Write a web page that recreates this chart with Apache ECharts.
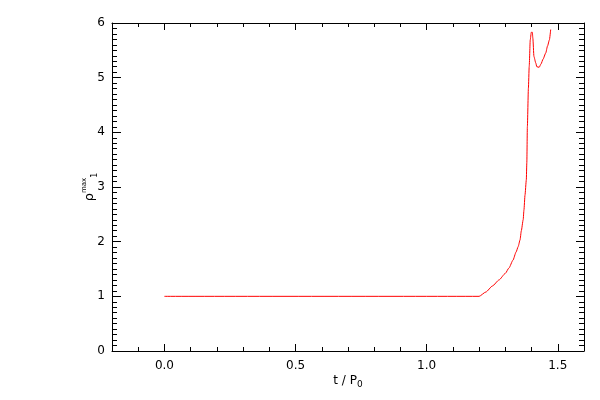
<!DOCTYPE html>
<html>
<head>
<meta charset="utf-8">
<script src="https://cdn.jsdelivr.net/npm/echarts@6/dist/echarts.min.js"></script>
<style>
html,body{margin:0;padding:0;background:#fff;}
#c{width:600px;height:400px;}
</style>
</head>
<body>
<div id="c"></div>
<script>
// Time in units of P0
var tValues = [0.0, 1.200, 1.226, 1.251, 1.276, 1.300, 1.314, 1.329, 1.341, 1.349, 1.356, 1.361, 1.368, 1.371, 1.375, 1.380, 1.382, 1.384, 1.388, 1.391, 1.395, 1.399, 1.403, 1.405, 1.409, 1.416, 1.420, 1.429, 1.436, 1.444, 1.454, 1.461, 1.468, 1.473];
// rho_1^max
var rhoValues = [1.00, 1.00, 1.08, 1.19, 1.30, 1.42, 1.52, 1.66, 1.81, 1.91, 2.03, 2.20, 2.40, 2.58, 2.85, 3.13, 3.45, 4.10, 4.81, 5.20, 5.69, 5.83, 5.83, 5.72, 5.39, 5.27, 5.20, 5.19, 5.25, 5.34, 5.45, 5.58, 5.69, 5.88];
var xTickValues = [0.0, 0.5, 1.0, 1.5];
var xTickLabels = ['0.0', '0.5', '1.0', '1.5'];
var yTickValues = [0, 1, 2, 3, 4, 5, 6];
var yTickLabels = ['0', '1', '2', '3', '4', '5', '6'];

var data = tValues.map(function (t, i) { return [t, rhoValues[i]]; });
var FONT = 'DejaVu Sans';

function lookup(vals, labels) {
  return function (v) {
    for (var i = 0; i < vals.length; i++) {
      if (Math.abs(vals[i] - v) < 1e-6) return labels[i];
    }
    return '';
  };
}

var axisLine = { show: true, onZero: false, lineStyle: { color: '#000', width: 1 } };

var chart = echarts.init(document.getElementById('c'), null, { renderer: 'canvas' });
chart.setOption({
  animation: false,
  backgroundColor: '#fff',
  grid: { left: 112, right: 16, top: 23, bottom: 49, containLabel: false },
  xAxis: [
    {
      type: 'value', position: 'bottom', min: -0.2, max: 1.6, splitNumber: 4,
      axisLine: axisLine,
      axisTick: { show: true, inside: true, length: 7, lineStyle: { color: '#000' } },
      minorTick: { show: true, splitNumber: 5, length: 4, lineStyle: { color: '#000' } },
      splitLine: { show: false },
      axisLabel: { show: true, color: '#000', fontFamily: FONT, fontSize: 12, margin: 9,
        formatter: lookup(xTickValues, xTickLabels) },
      name: '{a|t / P}{s|0}',
      nameLocation: 'middle', nameGap: 22, nameMoveOverlap: false,
      nameTextStyle: { color: '#000', rich: {
        a: { fontFamily: FONT, fontSize: 12, color: '#000', lineHeight: 16 },
        s: { fontFamily: FONT, fontSize: 9, color: '#000', lineHeight: 9, verticalAlign: 'bottom' }
      } }
    },
    {
      type: 'value', position: 'top', min: -0.2, max: 1.6, splitNumber: 4,
      axisLine: axisLine,
      axisTick: { show: true, inside: true, length: 7, lineStyle: { color: '#000' } },
      minorTick: { show: true, splitNumber: 5, length: 4, lineStyle: { color: '#000' } },
      splitLine: { show: false },
      axisLabel: { show: false }
    }
  ],
  yAxis: [
    {
      type: 'value', position: 'left', min: 0, max: 6, interval: 1,
      axisLine: axisLine,
      axisTick: { show: true, inside: true, length: 9, lineStyle: { color: '#000' } },
      minorTick: { show: true, splitNumber: 10, length: 5, lineStyle: { color: '#000' } },
      splitLine: { show: false },
      axisLabel: { show: true, color: '#000', fontFamily: FONT, fontSize: 12, margin: 7,
        formatter: lookup(yTickValues, yTickLabels) },
      name: '{r|ρ}{p|max}{b|1}',
      nameLocation: 'middle', nameRotate: 90, nameGap: 13, nameMoveOverlap: false,
      nameTextStyle: { color: '#000', rich: {
        r: { fontFamily: FONT, fontSize: 13, color: '#000', lineHeight: 18 },
        p: { fontFamily: FONT, fontSize: 7, color: '#000', lineHeight: 8, verticalAlign: 'top' },
        b: { fontFamily: FONT, fontSize: 8, color: '#000', lineHeight: 8, verticalAlign: 'bottom' }
      } }
    },
    {
      type: 'value', position: 'right', min: 0, max: 6, interval: 1,
      axisLine: axisLine,
      axisTick: { show: true, inside: true, length: 8, lineStyle: { color: '#000' } },
      minorTick: { show: true, splitNumber: 10, length: 5, lineStyle: { color: '#000' } },
      splitLine: { show: false },
      axisLabel: { show: false }
    }
  ],
  series: [{
    type: 'line', xAxisIndex: 0, yAxisIndex: 0,
    data: data, showSymbol: false, symbol: 'none',
    smooth: 0.2, smoothMonotone: 'x',
    lineStyle: { color: '#ff0000', width: 1 },
    itemStyle: { color: '#ff0000' }
  }]
});
</script>
</body>
</html>
